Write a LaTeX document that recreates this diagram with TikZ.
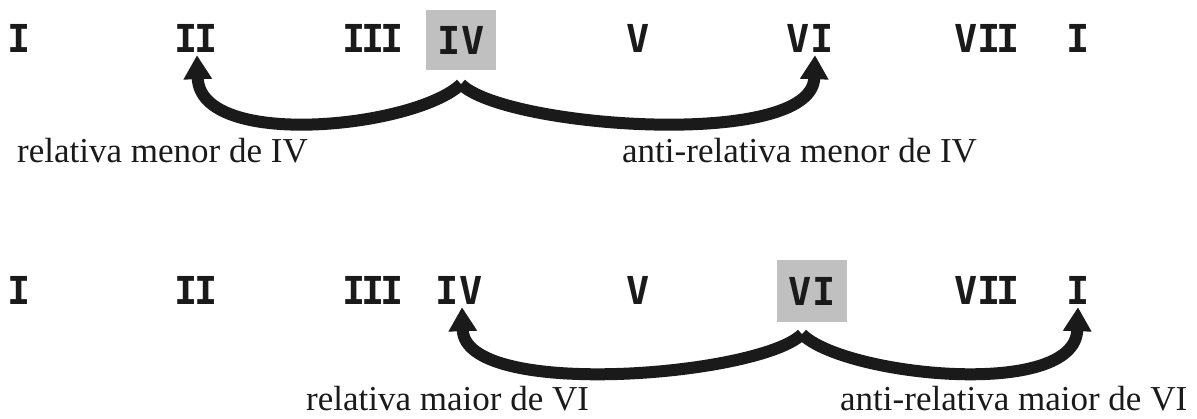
\documentclass[tikz,border=0pt]{standalone}
\usepackage{fontspec}
\setmainfont{Liberation Serif}
\newfontfamily\numfont{DejaVu Sans Mono}
\usetikzlibrary{arrows.meta}
\definecolor{hlgray}{HTML}{C0C0C0}
\definecolor{ink}{HTML}{1A1A1A}
\begin{document}
\begin{tikzpicture}[x=1pt,y=-1pt,
  num/.style={font=\numfont\bfseries\fontsize{38.5}{40}\selectfont, text=ink, inner sep=0pt, anchor=base},
  hl/.style={num, anchor=center, fill=hlgray, minimum width=70pt, minimum height=60pt},
  lbl/.style={font=\fontsize{35}{38}\selectfont, text=ink, inner sep=0pt, anchor=base west},
  arc/.style={line width=12pt, draw=ink, -{Triangle[length=24pt,width=27pt]}}]
\useasboundingbox (0,0) rectangle (1197,419);
% top row
\node[num] (tI)   at (19,53)  {I};
\node[num] (tII)  at (196,53) {I\kern-4pt I};
\node[num] (tIII) at (373,53) {I\kern-4pt I\kern-4pt I};
\node[hl]  (tIV)  at (461,40) {IV};
\node[num] (tV)   at (638,53) {V};
\node[num] (tVI)  at (810,53) {VI};
\node[num] (tVII) at (987,53) {VI\kern-4pt I};
\node[num] (tI8)  at (1078,53) {I};
% bottom row
\node[num] (bI)   at (19,305)  {I};
\node[num] (bII)  at (196,305) {I\kern-4pt I};
\node[num] (bIII) at (373,305) {I\kern-4pt I\kern-4pt I};
\node[num] (bIV)  at (459,305) {IV};
\node[num] (bV)   at (638,305) {V};
\node[hl,minimum height=62pt] (bVI) at (812,291) {VI};
\node[num] (bVII) at (987,305) {VI\kern-4pt I};
\node[num] (bI8)  at (1078,305) {I};
% labels
\node[lbl] (l1) at (17,163)  {relativa menor de IV};
\node[lbl] (l2) at (622,163) {anti-relativa menor de IV};
\node[lbl] (l3) at (306,411) {relativa maior de VI};
\node[lbl] (l4) at (840,411) {anti-relativa maior de VI};
% arrows
\coordinate (a1) at ([yshift=-14pt]tIV.south);
\coordinate (a2) at ([xshift=-10pt,yshift=-12pt]bVI.south);
\draw[arc] (a1) .. controls (415,128) and (200,150) .. ([xshift=1pt,yshift=-2pt]tII.south);
\draw[arc] (a1) .. controls (505,128) and (812,150) .. ([xshift=5pt,yshift=-2pt]tVI.south);
\draw[arc] (a2) .. controls (760,376) and (465,400) .. ([xshift=3pt,yshift=-2pt]bIV.south);
\draw[arc] (a2) .. controls (844,376) and (1075,400) .. ([yshift=-2pt]bI8.south);
\end{tikzpicture}
\end{document}
